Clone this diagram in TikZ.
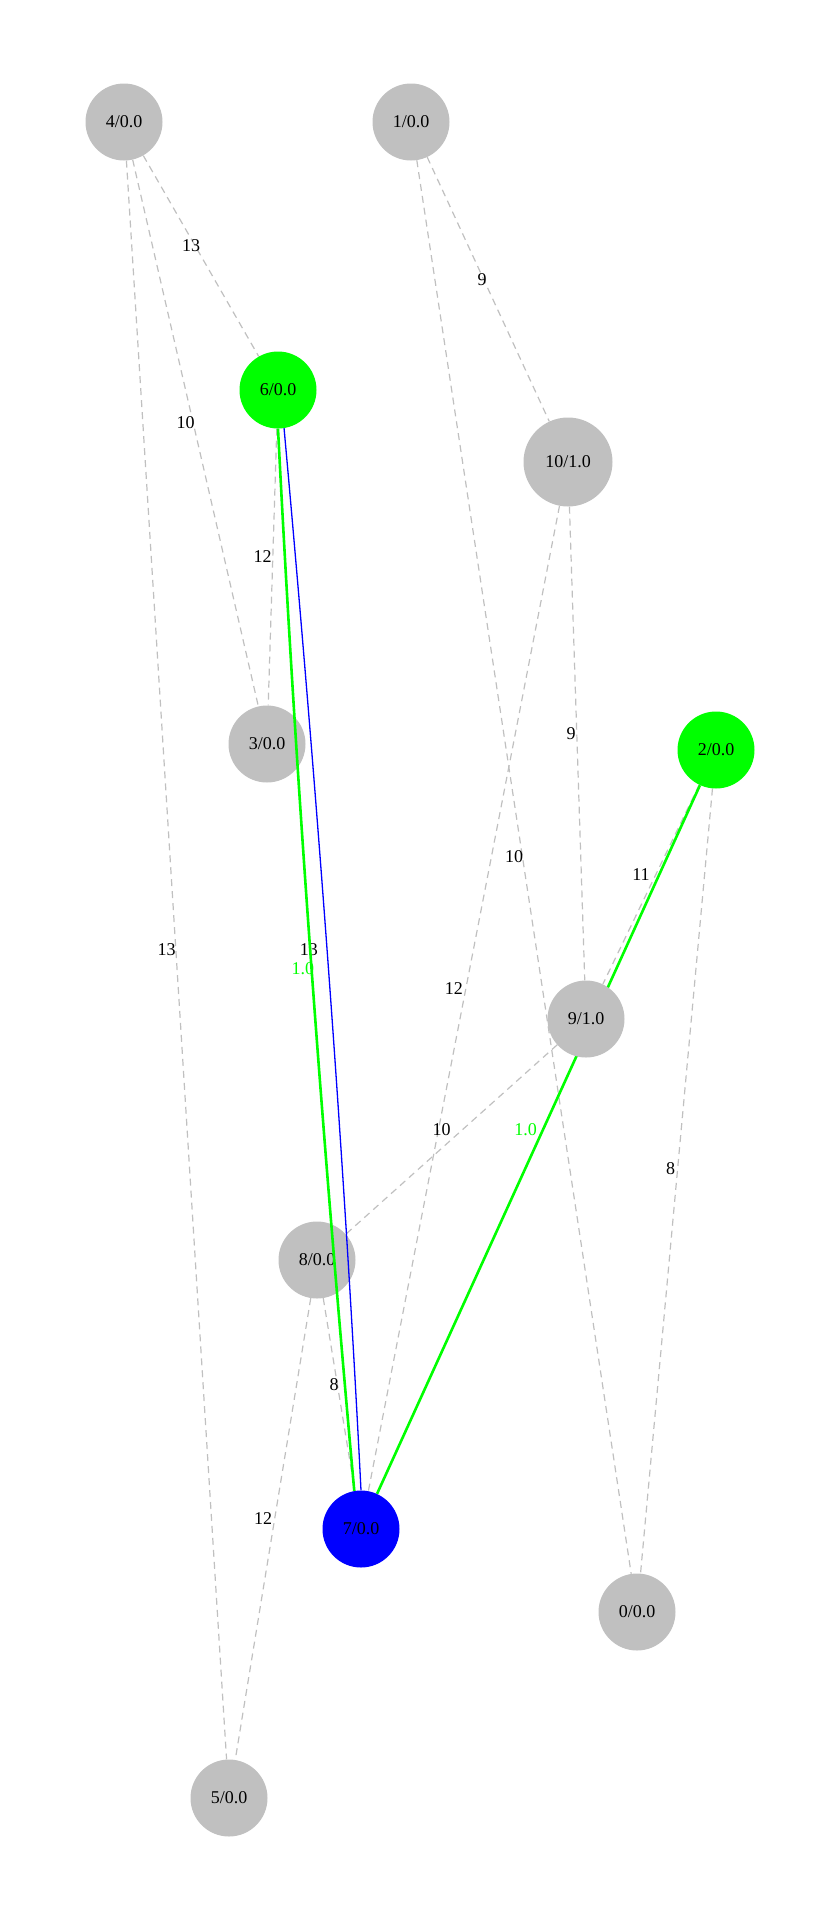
\documentclass[tikz,border=0pt]{standalone}
\usepackage{fontspec}
\setmainfont{Liberation Serif}
\usepackage{tikz}
\usetikzlibrary{backgrounds}

\definecolor{silver}{RGB}{192,192,192}
\definecolor{gvgreen}{RGB}{0,255,0}
\definecolor{gvblue}{RGB}{0,0,255}

\begin{document}
\begin{tikzpicture}[x=1pt,y=-1pt,
  nd/.style={circle, fill=silver, minimum size=77pt, inner sep=0pt,
    font=\fontsize{18}{20}\selectfont},
  wedge/.style={draw=silver, line width=1.2pt, dash pattern=on 7pt off 5pt},
  wlab/.style={midway, xshift=-10pt, yshift=10pt, inner sep=0pt,
    font=\fontsize{18}{20}\selectfont},
  pgreen/.style={draw=gvgreen, line width=2.6pt},
  pblue/.style={draw=gvblue, line width=1.3pt}]
\useasboundingbox (0,0) rectangle (840,1920);

% vertices
\node[nd] (n4) at (124,122) {4/0.0};
\node[nd] (n1) at (411,122) {1/0.0};
\node[nd, fill=gvgreen] (n6) at (278,390) {6/0.0};
\node[nd, minimum size=89pt] (n10) at (568,462) {10/1.0};
\node[nd] (n3) at (267,744) {3/0.0};
\node[nd, fill=gvgreen] (n2) at (716,750) {2/0.0};
\node[nd] (n9) at (586,1019) {9/1.0};
\node[nd] (n8) at (317,1260) {8/0.0};
\node[nd, fill=gvblue] (n7) at (361,1529) {7/0.0};
\node[nd] (n0) at (637,1612) {0/0.0};
\node[nd] (n5) at (229,1798) {5/0.0};

% weighted edges
\begin{scope}[on background layer]
\draw[wedge] (n4) -- (n6) node[wlab] {13};
\draw[wedge] (n4) -- (n3) node[wlab] {10};
\draw[wedge] (n4) -- (n5) node[wlab] {13};
\draw[wedge] (n6) -- (n3) node[wlab] {12};
\draw[wedge] (n6.south) .. controls +(18,354) and +(-32,-354) .. (n7.100)
  node[wlab, xshift=8pt] {13};
\draw[wedge] (n1) -- (n10) node[wlab, xshift=4pt] {9};
\draw[wedge] (n1) -- (n0) node[wlab] {10};
\draw[wedge] (n10) -- (n7) node[wlab] {12};
\draw[wedge] (n10) -- (n9) node[wlab, xshift=4pt] {9};
\draw[wedge] (n2) -- (n9) node[wlab] {11};
\draw[wedge] (n2) -- (n0) node[wlab, xshift=4pt, yshift=2pt] {8};
\draw[wedge] (n9) -- (n8) node[wlab] {10};
\draw[wedge] (n8) -- (n7) node[wlab, xshift=5pt] {8};
\draw[wedge] (n8) -- (n5) node[wlab] {12};
\draw[pgreen] (n2) -- (n7) node[wlab, xshift=-3pt, text=gvgreen] {1.0};
\end{scope}

% path 6 -> 7
\draw[pgreen] (n6.south) .. controls +(18,354) and +(-32,-354) .. (n7.100)
  node[wlab, xshift=2pt, yshift=-19pt, text=gvgreen] {1.0};
\draw[pblue] (n6.-81) .. controls +(32,354) and +(-18,-354) .. (n7.north);
\end{tikzpicture}
\end{document}
